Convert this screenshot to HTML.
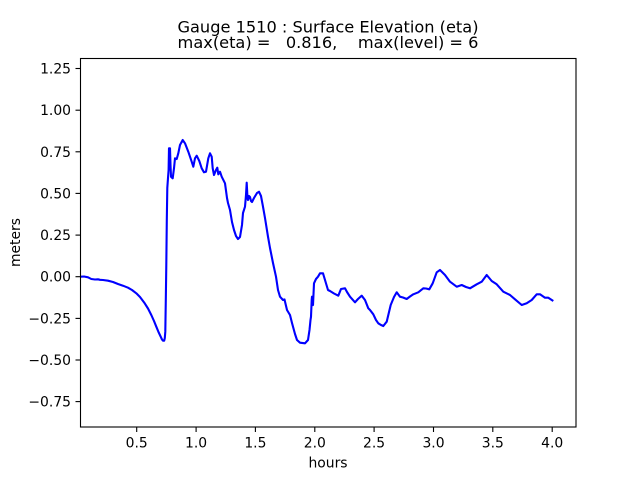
<!DOCTYPE html>
<html>
<head>
<meta charset="utf-8">
<style>
html,body{margin:0;padding:0;background:#fff;}
svg{display:block;}
text{font-family:"DejaVu Sans","Liberation Sans",sans-serif;fill:#000;}
</style>
</head>
<body>
<svg width="640" height="480" viewBox="0 0 640 480" xmlns="http://www.w3.org/2000/svg">
<rect x="0" y="0" width="640" height="480" fill="#fff"/>
<!-- title -->
<text x="328" y="32.3" font-size="16.2" text-anchor="middle" xml:space="preserve">Gauge 1510 : Surface Elevation (eta)</text>
<text x="328" y="48" font-size="16.2" text-anchor="middle" xml:space="preserve">max(eta) =   0.816,    max(level) = 6</text>

<!-- data -->
<polyline fill="none" stroke="#0000ff" stroke-width="2.1" stroke-linejoin="round" stroke-linecap="butt" points="
80.7,276.7 84,276.5 88,277.3 91.3,279 95,279.5 98,279.3 100,279.8 103,280 108,280.7 113,282 118,284 123,285.7 128,287.7 132,290 136.3,293.3 140,297 144.7,303.3 148,308.5 151.3,315 154,321 156.3,326.7 158.5,332 160.7,336.7 162,339.5 163,340.7 164.2,340.7 164.8,338 165.3,331.7 165.8,300 166.3,265 166.8,220 167.3,188 168,178 168.6,170 169,148.3 170,148.3 170.5,165 171,176.7 172.7,178.3 174,168.3 175,158.3 176.7,159 178.3,153.3 180,145 182.7,140 185,143.3 188.3,151.7 191.7,161.7 193.3,166.7 195,158.3 196.7,155.7 199.3,161 201.7,168.3 204,172.3 206,171.7 208.3,158.3 210,153.3 211.7,156.7 212.7,168.3 214,175 216,170 217.3,167.7 218.3,174.3 220,171.7 221.7,176.7 225,183.3 227,198 228,203 230,210 232,222 234,230 236,236 238,239 240,237 242,225 243,213 245,206.7 246,195 246.7,182.7 247.5,198 248,200 249,196 250,197 251,201 252,202 254,198 257,193 259,191.7 261,196 263,206.7 265,218 268,236.7 270,248 273,263 276,276.7 278,290 280,296.7 283,300 284.5,299.5 287,310 290,315 292,323 295,334 297,340 300,342.7 305,343.3 308,340 309.5,330 310.5,320 311,316.7 311.7,300 312,296.7 312.5,304 313,305 314,283.3 316,279 318,276.7 320,273.3 323,273.3 325,280 328,290 330,291 334,293.5 338.3,295.7 341,289 345,288.3 347,292 350,296.7 355,302.3 358,299 361.7,295.7 365,300 368.3,308.3 370,310 373.3,314.3 376,320 378.3,323.3 381,325 383.3,326 386.7,321.7 390.7,305 394,297 396.7,292.3 400,296.7 403,297.5 406.7,299 410,296.5 413.3,294.3 418.3,292.3 423.3,288.3 426,288.5 429.3,289.3 432.7,283.3 436.7,272.3 440,270 445,275 450,281.7 456.7,286.7 461.7,285 466,287 470,288.3 476.7,284.3 481.7,281.7 486.7,275 491.7,281 496.7,284.3 503.3,291.7 510,295 515,299.3 521.7,305 526.7,303.3 531.7,300 536.7,294.3 540,294.3 545,297.7 548.3,297.7 553.3,301"/>

<!-- axes frame -->
<rect x="80.5" y="58.5" width="495.5" height="368.5" fill="none" stroke="#000" stroke-width="1.1"/>

<!-- x ticks -->
<g stroke="#000" stroke-width="1.1">
<line x1="136.7" y1="427" x2="136.7" y2="432"/>
<line x1="196.1" y1="427" x2="196.1" y2="432"/>
<line x1="255.4" y1="427" x2="255.4" y2="432"/>
<line x1="314.8" y1="427" x2="314.8" y2="432"/>
<line x1="374.1" y1="427" x2="374.1" y2="432"/>
<line x1="433.5" y1="427" x2="433.5" y2="432"/>
<line x1="492.8" y1="427" x2="492.8" y2="432"/>
<line x1="552.2" y1="427" x2="552.2" y2="432"/>
</g>
<g font-size="13.9" text-anchor="middle">
<text x="136.7" y="447.5">0.5</text>
<text x="196.1" y="447.5">1.0</text>
<text x="255.4" y="447.5">1.5</text>
<text x="314.8" y="447.5">2.0</text>
<text x="374.1" y="447.5">2.5</text>
<text x="433.5" y="447.5">3.0</text>
<text x="492.8" y="447.5">3.5</text>
<text x="552.2" y="447.5">4.0</text>
</g>
<text x="328" y="467.5" font-size="13.9" text-anchor="middle">hours</text>

<!-- y ticks -->
<g stroke="#000" stroke-width="1.1">
<line x1="75.5" y1="68.5" x2="80.5" y2="68.5"/>
<line x1="75.5" y1="110.2" x2="80.5" y2="110.2"/>
<line x1="75.5" y1="151.8" x2="80.5" y2="151.8"/>
<line x1="75.5" y1="193.4" x2="80.5" y2="193.4"/>
<line x1="75.5" y1="235.1" x2="80.5" y2="235.1"/>
<line x1="75.5" y1="276.7" x2="80.5" y2="276.7"/>
<line x1="75.5" y1="318.4" x2="80.5" y2="318.4"/>
<line x1="75.5" y1="360" x2="80.5" y2="360"/>
<line x1="75.5" y1="401.6" x2="80.5" y2="401.6"/>
</g>
<g font-size="13.9" text-anchor="end">
<text x="71" y="73.5">1.25</text>
<text x="71" y="115.2">1.00</text>
<text x="71" y="156.8">0.75</text>
<text x="71" y="198.4">0.50</text>
<text x="71" y="240.1">0.25</text>
<text x="71" y="281.7">0.00</text>
<text x="71" y="323.4">−0.25</text>
<text x="71" y="365">−0.50</text>
<text x="71" y="406.6">−0.75</text>
</g>
<text x="20" y="242.5" font-size="13.9" text-anchor="middle" transform="rotate(-90 20 242.5)">meters</text>
</svg>
</body>
</html>
